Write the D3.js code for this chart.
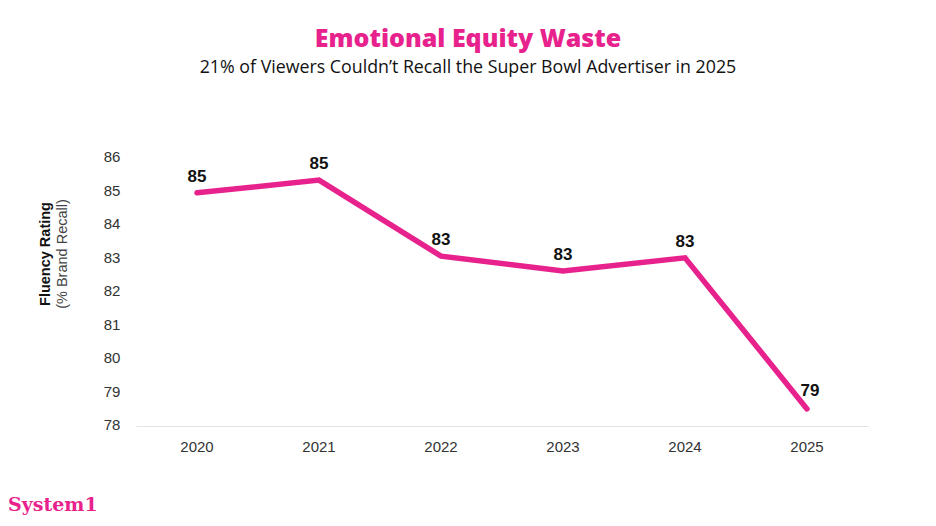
<!DOCTYPE html>
<html>
<head>
<meta charset="utf-8">
<script src="https://cdn.jsdelivr.net/npm/d3@7"></script>
<style>
  body { margin: 0; background: #fff; }
  svg { display: block; }
</style>
</head>
<body>
<svg id="chart" width="936" height="526"></svg>
<script>
const years = ["2020", "2021", "2022", "2023", "2024", "2025"];
const recall = [84.93, 85.31, 83.04, 82.6, 82.99, 78.48];
const labels = ["85", "85", "83", "83", "83", "79"];
const yTicks = [78, 79, 80, 81, 82, 83, 84, 85, 86];

const pink = "#E8228D";
const svg = d3.select("#chart");
const width = +svg.attr("width");

const x = d3.scaleBand().domain(years).range([136, 868]);
const y = d3.scaleLinear().domain([78, 86]).range([425, 157]);

// titles
svg.append("text")
  .attr("x", width / 2).attr("y", 47)
  .attr("text-anchor", "middle")
  .style("font-family", "'Open Sans'")
  .style("font-weight", 800)
  .style("font-size", "25px")
  .style("fill", pink)
  .text("Emotional Equity Waste");

svg.append("text")
  .attr("x", width / 2).attr("y", 73)
  .attr("text-anchor", "middle")
  .style("font-family", "'Open Sans'")
  .style("font-size", "17.8px")
  .style("fill", "#111")
  .text("21% of Viewers Couldn’t Recall the Super Bowl Advertiser in 2025");

// y axis labels (no line)
const yAxis = svg.append("g")
  .attr("transform", "translate(121,0)")
  .call(d3.axisLeft(y).tickValues(yTicks).tickSize(0).tickPadding(0));
yAxis.select(".domain").remove();
yAxis.selectAll("text")
  .attr("text-anchor", "middle")
  .attr("dx", -9)
  .style("font-family", "'Liberation Sans', Arial")
  .style("font-size", "15px")
  .style("fill", "#333");

// baseline + x labels
const xAxis = svg.append("g")
  .attr("transform", "translate(0,426)")
  .call(d3.axisBottom(x).tickSize(0).tickPadding(15));
xAxis.select(".domain").attr("stroke", "#e3e3e3").attr("stroke-width", 1);
xAxis.selectAll("text")
  .style("font-family", "'Liberation Sans', Arial")
  .style("font-size", "15px")
  .style("fill", "#333");

// y title
const yTitle = svg.append("text")
  .attr("transform", "translate(50,254) rotate(-90)")
  .attr("text-anchor", "middle")
  .style("font-family", "'Liberation Sans', Arial")
  .style("font-size", "14.5px")
  .style("fill", "#111");
yTitle.append("tspan").attr("x", 0).attr("dy", 0).style("font-weight", 700).text("Fluency Rating");
yTitle.append("tspan").attr("x", 0).attr("dy", 17).style("fill", "#444").text("(% Brand Recall)");

// line
const cx = d => x(d) + x.bandwidth() / 2;
const points = years.map((yr, i) => [cx(yr), y(recall[i])]);

svg.append("path")
  .datum(points)
  .attr("d", d3.line())
  .attr("fill", "none")
  .attr("stroke", pink)
  .attr("stroke-width", 5.5)
  .attr("stroke-linecap", "round")
  .attr("stroke-linejoin", "miter");

// data labels
svg.selectAll(".lbl")
  .data(years)
  .join("text")
  .attr("class", "lbl")
  .attr("x", (d, i) => cx(d) + (i === 5 ? 3 : 0))
  .attr("y", (d, i) => y(recall[i]) - (i === 5 ? 13 : 11))
  .attr("text-anchor", "middle")
  .style("font-family", "'Liberation Sans', Arial")
  .style("font-weight", 700)
  .style("font-size", "17px")
  .style("fill", "#111")
  .text((d, i) => labels[i]);

// brand mark
svg.append("text")
  .attr("x", 8).attr("y", 511)
  .style("font-family", "'DejaVu Serif'")
  .style("font-weight", 700)
  .style("font-size", "19px")
  .style("fill", pink)
  .text("System1");
</script>
</body>
</html>
